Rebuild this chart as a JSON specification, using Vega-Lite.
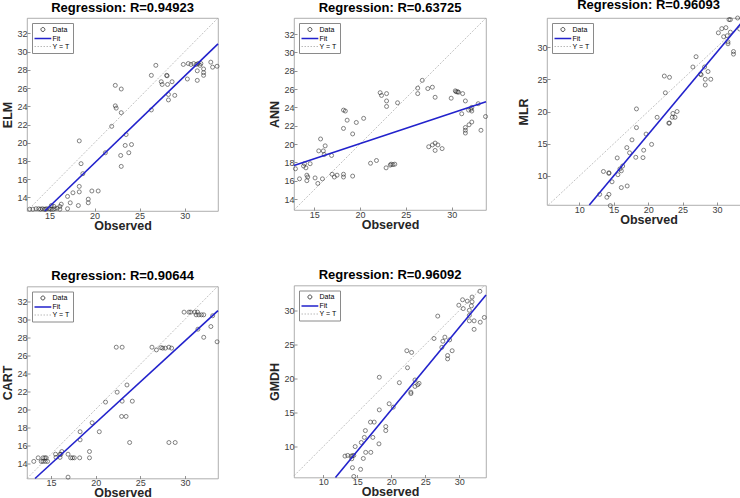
{
  "$schema": "https://vega.github.io/schema/vega-lite/v6.json",
  "padding": {"left": 0, "top": -1, "right": 0, "bottom": 0},
  "datasets": {
    "elm": [{"x":12.8,"y":12.7},{"x":13.15,"y":12.7},{"x":13.5,"y":12.75},{"x":13.8,"y":12.75},{"x":14.0,"y":12.7},{"x":14.2,"y":12.75},{"x":14.4,"y":12.7},{"x":14.55,"y":12.7},{"x":14.7,"y":12.75},{"x":14.95,"y":12.75},{"x":15.15,"y":12.7},{"x":15.4,"y":12.7},{"x":15.6,"y":12.75},{"x":16.15,"y":12.7},{"x":15.2,"y":13.1},{"x":15.5,"y":13.0},{"x":15.85,"y":12.8},{"x":16.15,"y":13.0},{"x":16.3,"y":13.25},{"x":17.0,"y":12.75},{"x":17.0,"y":14.1},{"x":17.3,"y":13.4},{"x":17.6,"y":14.5},{"x":18.2,"y":13.1},{"x":18.3,"y":14.6},{"x":18.3,"y":15.2},{"x":18.3,"y":20.2},{"x":18.5,"y":17.7},{"x":18.7,"y":16.6},{"x":19.3,"y":13.8},{"x":19.3,"y":13.4},{"x":19.7,"y":14.7},{"x":20.4,"y":14.7},{"x":21.2,"y":18.9},{"x":21.9,"y":21.8},{"x":22.3,"y":26.3},{"x":22.3,"y":24.05},{"x":22.4,"y":23.8},{"x":22.9,"y":18.6},{"x":22.96,"y":25.9},{"x":22.96,"y":23.3},{"x":22.96,"y":17.4},{"x":23.4,"y":19.7},{"x":23.5,"y":20.9},{"x":23.8,"y":18.9},{"x":24.1,"y":19.8},{"x":26.3,"y":27.4},{"x":26.3,"y":23.6},{"x":26.8,"y":28.5},{"x":27.4,"y":26.7},{"x":27.5,"y":26.4},{"x":28.0,"y":27.4},{"x":28.05,"y":27.35},{"x":28.1,"y":26.4},{"x":28.2,"y":25.3},{"x":28.2,"y":24.7},{"x":28.6,"y":26.7},{"x":28.9,"y":25.2},{"x":29.85,"y":28.6},{"x":30.3,"y":27.0},{"x":30.4,"y":28.7},{"x":30.7,"y":28.6},{"x":31.0,"y":28.7},{"x":31.3,"y":28.6},{"x":31.4,"y":27.9},{"x":31.4,"y":26.85},{"x":31.5,"y":28.7},{"x":31.7,"y":28.5},{"x":31.8,"y":28.7},{"x":32.1,"y":28.1},{"x":32.1,"y":27.7},{"x":32.1,"y":27.4},{"x":32.9,"y":28.85},{"x":33.1,"y":28.3},{"x":33.6,"y":28.4}],
    "ann": [{"x":12.96,"y":17.3},{"x":13.4,"y":16.2},{"x":13.84,"y":17.6},{"x":13.95,"y":17.85},{"x":14.1,"y":17.4},{"x":14.2,"y":16.6},{"x":14.2,"y":16.0},{"x":14.3,"y":16.4},{"x":14.56,"y":17.85},{"x":15.1,"y":16.3},{"x":15.4,"y":15.7},{"x":15.5,"y":19.25},{"x":15.7,"y":20.55},{"x":15.9,"y":16.2},{"x":16.0,"y":19.25},{"x":16.1,"y":18.85},{"x":16.2,"y":19.8},{"x":16.9,"y":18.75},{"x":16.96,"y":16.7},{"x":17.2,"y":16.4},{"x":17.5,"y":16.6},{"x":18.2,"y":16.7},{"x":18.2,"y":16.4},{"x":18.2,"y":23.7},{"x":18.4,"y":23.6},{"x":18.2,"y":21.7},{"x":18.6,"y":22.6},{"x":19.2,"y":16.5},{"x":19.2,"y":21.1},{"x":19.6,"y":22.35},{"x":20.4,"y":22.8},{"x":21.15,"y":17.9},{"x":21.8,"y":18.2},{"x":22.2,"y":25.6},{"x":22.35,"y":25.3},{"x":22.9,"y":25.5},{"x":22.9,"y":24.7},{"x":22.9,"y":24.1},{"x":22.85,"y":17.4},{"x":23.3,"y":17.7},{"x":23.4,"y":17.8},{"x":23.6,"y":17.75},{"x":23.8,"y":17.8},{"x":24.1,"y":24.5},{"x":26.3,"y":26.1},{"x":26.3,"y":25.5},{"x":26.8,"y":26.95},{"x":27.4,"y":26.05},{"x":27.5,"y":19.7},{"x":27.9,"y":26.2},{"x":27.9,"y":19.9},{"x":28.2,"y":25.1},{"x":28.2,"y":20.1},{"x":28.2,"y":19.3},{"x":28.5,"y":19.9},{"x":28.96,"y":19.5},{"x":29.95,"y":25.0},{"x":30.4,"y":25.8},{"x":30.5,"y":25.7},{"x":30.65,"y":25.7},{"x":30.75,"y":25.65},{"x":31.1,"y":23.3},{"x":31.2,"y":25.5},{"x":31.5,"y":24.7},{"x":31.5,"y":21.8},{"x":31.5,"y":21.5},{"x":31.5,"y":21.2},{"x":31.85,"y":23.7},{"x":31.9,"y":22.1},{"x":32.1,"y":23.8},{"x":32.2,"y":24.0},{"x":32.2,"y":23.6},{"x":32.2,"y":22.4},{"x":32.9,"y":24.4},{"x":33.2,"y":21.5},{"x":33.7,"y":23.0}],
    "mlr": [{"x":33.0,"y":34.5},{"x":31.75,"y":34.25},{"x":31.95,"y":34.25},{"x":33.3,"y":32.8},{"x":30.2,"y":32.2},{"x":30.7,"y":32.85},{"x":31.3,"y":33.0},{"x":30.97,"y":31.6},{"x":31.5,"y":31.75},{"x":31.95,"y":32.3},{"x":31.6,"y":30.8},{"x":31.6,"y":30.5},{"x":32.4,"y":29.3},{"x":32.4,"y":28.9},{"x":33.85,"y":29.8},{"x":26.96,"y":28.5},{"x":26.5,"y":26.9},{"x":28.2,"y":26.9},{"x":27.6,"y":25.8},{"x":27.7,"y":25.7},{"x":28.7,"y":26.2},{"x":28.3,"y":25.0},{"x":29.1,"y":25.0},{"x":28.3,"y":24.1},{"x":22.35,"y":25.5},{"x":23.1,"y":25.3},{"x":22.5,"y":22.9},{"x":23.6,"y":19.7},{"x":24.2,"y":20.0},{"x":23.5,"y":19.1},{"x":23.9,"y":19.1},{"x":23.0,"y":18.2},{"x":23.1,"y":18.2},{"x":21.3,"y":19.1},{"x":18.3,"y":20.4},{"x":18.3,"y":17.5},{"x":19.7,"y":16.5},{"x":20.5,"y":14.9},{"x":17.65,"y":15.6},{"x":16.9,"y":14.4},{"x":17.3,"y":13.6},{"x":19.35,"y":14.0},{"x":19.25,"y":12.85},{"x":18.2,"y":12.9},{"x":15.5,"y":12.8},{"x":16.3,"y":11.55},{"x":15.9,"y":11.1},{"x":16.1,"y":10.8},{"x":15.6,"y":10.2},{"x":14.3,"y":10.4},{"x":14.3,"y":10.5},{"x":13.5,"y":10.7},{"x":14.75,"y":9.1},{"x":16.1,"y":8.2},{"x":16.95,"y":8.45},{"x":12.95,"y":7.15},{"x":14.0,"y":6.7},{"x":14.3,"y":7.15},{"x":14.5,"y":5.4}],
    "cart": [{"x":13.06,"y":14.2},{"x":13.55,"y":14.6},{"x":13.9,"y":14.2},{"x":14.1,"y":14.6},{"x":14.3,"y":14.6},{"x":14.45,"y":14.6},{"x":14.1,"y":14.2},{"x":14.35,"y":14.2},{"x":14.6,"y":14.2},{"x":15.5,"y":15.0},{"x":15.55,"y":14.65},{"x":16.0,"y":14.65},{"x":16.0,"y":15.0},{"x":16.1,"y":15.0},{"x":16.2,"y":15.3},{"x":16.9,"y":15.0},{"x":17.2,"y":14.6},{"x":17.4,"y":14.6},{"x":17.6,"y":14.6},{"x":16.9,"y":12.45},{"x":18.2,"y":14.6},{"x":18.25,"y":17.5},{"x":18.25,"y":16.6},{"x":19.3,"y":15.3},{"x":19.3,"y":14.6},{"x":19.6,"y":18.5},{"x":20.4,"y":17.5},{"x":21.1,"y":20.8},{"x":22.3,"y":26.9},{"x":22.4,"y":21.9},{"x":22.96,"y":26.9},{"x":22.9,"y":19.2},{"x":23.4,"y":19.2},{"x":22.96,"y":20.9},{"x":23.5,"y":22.7},{"x":23.8,"y":16.3},{"x":24.1,"y":20.9},{"x":26.3,"y":26.9},{"x":26.8,"y":26.6},{"x":27.3,"y":26.85},{"x":27.5,"y":26.8},{"x":27.8,"y":26.8},{"x":28.2,"y":16.3},{"x":28.2,"y":26.9},{"x":28.5,"y":26.8},{"x":28.9,"y":16.3},{"x":29.9,"y":30.8},{"x":30.45,"y":30.8},{"x":30.65,"y":30.8},{"x":31.1,"y":30.8},{"x":31.4,"y":30.8},{"x":31.25,"y":30.5},{"x":31.55,"y":30.5},{"x":31.85,"y":30.5},{"x":32.1,"y":30.5},{"x":31.45,"y":28.9},{"x":32.1,"y":28.0},{"x":32.9,"y":29.2},{"x":33.1,"y":30.4},{"x":33.6,"y":27.5}],
    "gmdh": [{"x":33.05,"y":32.85},{"x":30.5,"y":31.6},{"x":29.95,"y":30.8},{"x":31.2,"y":31.4},{"x":31.8,"y":30.7},{"x":31.9,"y":31.3},{"x":30.6,"y":30.3},{"x":31.5,"y":30.05},{"x":31.5,"y":29.3},{"x":31.5,"y":28.5},{"x":32.2,"y":28.5},{"x":31.9,"y":32.0},{"x":33.7,"y":29.0},{"x":33.1,"y":28.3},{"x":32.2,"y":27.25},{"x":26.85,"y":29.2},{"x":26.3,"y":25.9},{"x":27.9,"y":26.1},{"x":28.6,"y":25.7},{"x":27.6,"y":25.5},{"x":27.45,"y":24.6},{"x":28.3,"y":23.4},{"x":28.3,"y":22.9},{"x":28.97,"y":24.1},{"x":22.3,"y":24.1},{"x":23.0,"y":23.85},{"x":22.4,"y":21.6},{"x":21.2,"y":19.4},{"x":23.5,"y":19.8},{"x":23.5,"y":18.85},{"x":22.9,"y":18.0},{"x":22.9,"y":17.8},{"x":23.9,"y":19.1},{"x":24.1,"y":19.3},{"x":18.25,"y":20.2},{"x":18.25,"y":15.4},{"x":19.7,"y":16.3},{"x":20.3,"y":15.8},{"x":19.2,"y":12.95},{"x":19.2,"y":12.35},{"x":17.5,"y":13.6},{"x":16.95,"y":13.6},{"x":16.2,"y":12.35},{"x":16.05,"y":11.35},{"x":17.3,"y":11.35},{"x":15.6,"y":10.6},{"x":18.2,"y":10.4},{"x":14.7,"y":10.0},{"x":16.25,"y":9.15},{"x":17.0,"y":9.15},{"x":13.2,"y":8.6},{"x":13.6,"y":8.7},{"x":14.1,"y":8.6},{"x":14.3,"y":8.65},{"x":14.5,"y":8.7},{"x":14.2,"y":8.2},{"x":15.9,"y":8.25},{"x":14.3,"y":6.9},{"x":15.5,"y":6.65},{"x":14.5,"y":5.6}],
    "lines": [
      {"m":"ELM","s":"Fit","x":14.48,"y":12.5},{"m":"ELM","s":"Fit","x":33.7,"y":30.85},
      {"m":"ELM","s":"Y = T","x":12.5,"y":12.5},{"m":"ELM","s":"Y = T","x":33.7,"y":33.7},
      {"m":"ANN","s":"Fit","x":12.8,"y":17.65},{"m":"ANN","s":"Fit","x":33.75,"y":24.6},
      {"m":"ANN","s":"Y = T","x":12.8,"y":12.8},{"m":"ANN","s":"Y = T","x":33.75,"y":33.75},
      {"m":"MLR","s":"Fit","x":11.45,"y":5.5},{"m":"MLR","s":"Fit","x":34.13,"y":34.5},
      {"m":"MLR","s":"Y = T","x":5.5,"y":5.5},{"m":"MLR","s":"Y = T","x":34.5,"y":34.5},
      {"m":"CART","s":"Fit","x":13.2,"y":12.3},{"m":"CART","s":"Fit","x":33.7,"y":30.96},
      {"m":"CART","s":"Y = T","x":12.3,"y":12.3},{"m":"CART","s":"Y = T","x":33.65,"y":33.65},
      {"m":"GMDH","s":"Fit","x":11.8,"y":5.45},{"m":"GMDH","s":"Fit","x":33.95,"y":32.3},
      {"m":"GMDH","s":"Y = T","x":5.7,"y":5.7},{"m":"GMDH","s":"Y = T","x":33.7,"y":33.7}
    ]
  },
  "spacing": 45,
  "resolve": {"scale": {"color": "independent"}, "legend": {"color": "independent"}},
  "hconcat": [
    {
      "spacing": 37.5,
      "resolve": {"scale": {"color": "independent"}, "legend": {"color": "independent"}},
      "vconcat": [
        {
          "title": "Regression: R=0.94923",
          "width": 191, "height": 193,
          "layer": [
            {"data": {"name": "lines"}, "transform": [{"filter": "datum.m === 'ELM' && datum.s === 'Y = T'"}],
             "mark": {"type": "line", "strokeWidth": 0.7, "strokeDash": [2, 1.5]},
             "encoding": {
               "x": {"field": "x", "type": "quantitative", "scale": {"domain": [12.5, 33.7], "nice": false, "zero": false}, "axis": {"title": "Observed", "values": [15, 20, 25, 30], "tickCount": 20}},
               "y": {"field": "y", "type": "quantitative", "scale": {"domain": [12.5, 33.7], "nice": false, "zero": false}, "axis": {"title": "ELM", "values": [14, 16, 18, 20, 22, 24, 26, 28, 30, 32], "tickCount": 20}},
               "color": {"field": "s", "type": "nominal", "scale": {"domain": ["Data", "Fit", "Y = T"], "range": ["#222222", "#2222cc", "#a8a8a8"]},
                 "legend": {"encode": {"symbols": {"update": {
                   "shape": {"signal": "datum.value === 'Data' ? 'M1.6,0A0.5,0.5,0,1,1,0.6,0A0.5,0.5,0,1,1,1.6,0Z' : 'M-1,0L3.2,0'"},
                   "stroke": {"signal": "datum.value === 'Data' ? '#333333' : datum.value === 'Fit' ? '#2b2bd0' : '#9a9a9a'"},
                   "strokeWidth": {"signal": "datum.value === 'Fit' ? 1.6 : 0.8"},
                   "strokeDash": {"signal": "datum.value === 'Y = T' ? [1.5, 1.5] : [1, 0]"},
                   "fill": {"value": "transparent"},
                   "opacity": {"value": 1}}}}}}
             }},
            {"data": {"name": "elm"}, "mark": {"type": "point", "filled": false, "shape": "circle", "size": 16, "strokeWidth": 0.8},
             "encoding": {"x": {"field": "x", "type": "quantitative"}, "y": {"field": "y", "type": "quantitative"}, "color": {"datum": "Data", "type": "nominal"}}},
            {"data": {"name": "lines"}, "transform": [{"filter": "datum.m === 'ELM' && datum.s === 'Fit'"}],
             "mark": {"type": "line", "strokeWidth": 1.6},
             "encoding": {"x": {"field": "x", "type": "quantitative"}, "y": {"field": "y", "type": "quantitative"}, "color": {"field": "s", "type": "nominal"}}}
          ]
        },
        {
          "title": "Regression: R=0.90644",
          "width": 191, "height": 192,
          "layer": [
            {"data": {"name": "lines"}, "transform": [{"filter": "datum.m === 'CART' && datum.s === 'Y = T'"}],
             "mark": {"type": "line", "strokeWidth": 0.7, "strokeDash": [2, 1.5]},
             "encoding": {
               "x": {"field": "x", "type": "quantitative", "scale": {"domain": [12.3, 33.7], "nice": false, "zero": false}, "axis": {"title": "Observed", "values": [15, 20, 25, 30], "tickCount": 20}},
               "y": {"field": "y", "type": "quantitative", "scale": {"domain": [12.3, 33.65], "nice": false, "zero": false}, "axis": {"title": "CART", "values": [14, 16, 18, 20, 22, 24, 26, 28, 30, 32], "tickCount": 20}},
               "color": {"field": "s", "type": "nominal", "scale": {"domain": ["Data", "Fit", "Y = T"], "range": ["#222222", "#2222cc", "#a8a8a8"]},
                 "legend": {"encode": {"symbols": {"update": {
                   "shape": {"signal": "datum.value === 'Data' ? 'M1.6,0A0.5,0.5,0,1,1,0.6,0A0.5,0.5,0,1,1,1.6,0Z' : 'M-1,0L3.2,0'"},
                   "stroke": {"signal": "datum.value === 'Data' ? '#333333' : datum.value === 'Fit' ? '#2b2bd0' : '#9a9a9a'"},
                   "strokeWidth": {"signal": "datum.value === 'Fit' ? 1.6 : 0.8"},
                   "strokeDash": {"signal": "datum.value === 'Y = T' ? [1.5, 1.5] : [1, 0]"},
                   "fill": {"value": "transparent"},
                   "opacity": {"value": 1}}}}}}
             }},
            {"data": {"name": "cart"}, "mark": {"type": "point", "filled": false, "shape": "circle", "size": 16, "strokeWidth": 0.8},
             "encoding": {"x": {"field": "x", "type": "quantitative"}, "y": {"field": "y", "type": "quantitative"}, "color": {"datum": "Data", "type": "nominal"}}},
            {"data": {"name": "lines"}, "transform": [{"filter": "datum.m === 'CART' && datum.s === 'Fit'"}],
             "mark": {"type": "line", "strokeWidth": 1.6},
             "encoding": {"x": {"field": "x", "type": "quantitative"}, "y": {"field": "y", "type": "quantitative"}, "color": {"field": "s", "type": "nominal"}}}
          ]
        }
      ]
    },
    {
      "spacing": 26,
      "resolve": {"scale": {"color": "independent"}, "legend": {"color": "independent"}},
      "hconcat": [
        {
          "spacing": 37.5,
          "resolve": {"scale": {"color": "independent"}, "legend": {"color": "independent"}},
          "vconcat": [
            {
              "title": "Regression: R=0.63725",
              "width": 192, "height": 192,
              "layer": [
                {"data": {"name": "lines"}, "transform": [{"filter": "datum.m === 'ANN' && datum.s === 'Y = T'"}],
                 "mark": {"type": "line", "strokeWidth": 0.7, "strokeDash": [2, 1.5]},
                 "encoding": {
                   "x": {"field": "x", "type": "quantitative", "scale": {"domain": [12.8, 33.75], "nice": false, "zero": false}, "axis": {"title": "Observed", "values": [15, 20, 25, 30], "tickCount": 20}},
                   "y": {"field": "y", "type": "quantitative", "scale": {"domain": [12.8, 33.75], "nice": false, "zero": false}, "axis": {"title": "ANN", "values": [14, 16, 18, 20, 22, 24, 26, 28, 30, 32], "tickCount": 20}},
                   "color": {"field": "s", "type": "nominal", "scale": {"domain": ["Data", "Fit", "Y = T"], "range": ["#222222", "#2222cc", "#a8a8a8"]},
                     "legend": {"encode": {"symbols": {"update": {
                       "shape": {"signal": "datum.value === 'Data' ? 'M1.6,0A0.5,0.5,0,1,1,0.6,0A0.5,0.5,0,1,1,1.6,0Z' : 'M-1,0L3.2,0'"},
                       "stroke": {"signal": "datum.value === 'Data' ? '#333333' : datum.value === 'Fit' ? '#2b2bd0' : '#9a9a9a'"},
                       "strokeWidth": {"signal": "datum.value === 'Fit' ? 1.6 : 0.8"},
                       "strokeDash": {"signal": "datum.value === 'Y = T' ? [1.5, 1.5] : [1, 0]"},
                       "fill": {"value": "transparent"},
                       "opacity": {"value": 1}}}}}}
                 }},
                {"data": {"name": "ann"}, "mark": {"type": "point", "filled": false, "shape": "circle", "size": 16, "strokeWidth": 0.8},
                 "encoding": {"x": {"field": "x", "type": "quantitative"}, "y": {"field": "y", "type": "quantitative"}, "color": {"datum": "Data", "type": "nominal"}}},
                {"data": {"name": "lines"}, "transform": [{"filter": "datum.m === 'ANN' && datum.s === 'Fit'"}],
                 "mark": {"type": "line", "strokeWidth": 1.6},
                 "encoding": {"x": {"field": "x", "type": "quantitative"}, "y": {"field": "y", "type": "quantitative"}, "color": {"field": "s", "type": "nominal"}}}
              ]
            },
            {
              "title": "Regression: R=0.96092",
              "width": 192, "height": 192,
              "layer": [
                {"data": {"name": "lines"}, "transform": [{"filter": "datum.m === 'GMDH' && datum.s === 'Y = T'"}],
                 "mark": {"type": "line", "strokeWidth": 0.7, "strokeDash": [2, 1.5]},
                 "encoding": {
                   "x": {"field": "x", "type": "quantitative", "scale": {"domain": [5.7, 33.95], "nice": false, "zero": false}, "axis": {"title": "Observed", "values": [10, 15, 20, 25, 30], "tickCount": 20}},
                   "y": {"field": "y", "type": "quantitative", "scale": {"domain": [5.45, 33.7], "nice": false, "zero": false}, "axis": {"title": "GMDH", "values": [10, 15, 20, 25, 30], "tickCount": 20}},
                   "color": {"field": "s", "type": "nominal", "scale": {"domain": ["Data", "Fit", "Y = T"], "range": ["#222222", "#2222cc", "#a8a8a8"]},
                     "legend": {"encode": {"symbols": {"update": {
                       "shape": {"signal": "datum.value === 'Data' ? 'M1.6,0A0.5,0.5,0,1,1,0.6,0A0.5,0.5,0,1,1,1.6,0Z' : 'M-1,0L3.2,0'"},
                       "stroke": {"signal": "datum.value === 'Data' ? '#333333' : datum.value === 'Fit' ? '#2b2bd0' : '#9a9a9a'"},
                       "strokeWidth": {"signal": "datum.value === 'Fit' ? 1.6 : 0.8"},
                       "strokeDash": {"signal": "datum.value === 'Y = T' ? [1.5, 1.5] : [1, 0]"},
                       "fill": {"value": "transparent"},
                       "opacity": {"value": 1}}}}}}
                 }},
                {"data": {"name": "gmdh"}, "mark": {"type": "point", "filled": false, "shape": "circle", "size": 16, "strokeWidth": 0.8},
                 "encoding": {"x": {"field": "x", "type": "quantitative"}, "y": {"field": "y", "type": "quantitative"}, "color": {"datum": "Data", "type": "nominal"}}},
                {"data": {"name": "lines"}, "transform": [{"filter": "datum.m === 'GMDH' && datum.s === 'Fit'"}],
                 "mark": {"type": "line", "strokeWidth": 1.6},
                 "encoding": {"x": {"field": "x", "type": "quantitative"}, "y": {"field": "y", "type": "quantitative"}, "color": {"field": "s", "type": "nominal"}}}
              ]
            }
          ]
        },
        {
          "title": "Regression: R=0.96093",
          "width": 203, "height": 187,
          "layer": [
            {"data": {"name": "lines"}, "transform": [{"filter": "datum.m === 'MLR' && datum.s === 'Y = T'"}],
             "mark": {"type": "line", "strokeWidth": 0.7, "strokeDash": [2, 1.5]},
             "encoding": {
               "x": {"field": "x", "type": "quantitative", "scale": {"domain": [5.3, 34.8], "nice": false, "zero": false}, "axis": {"title": "Observed", "values": [10, 15, 20, 25, 30], "tickCount": 20}},
               "y": {"field": "y", "type": "quantitative", "scale": {"domain": [5.5, 34.5], "nice": false, "zero": false}, "axis": {"title": "MLR", "values": [10, 15, 20, 25, 30], "tickCount": 20, "titlePadding": 5}},
               "color": {"field": "s", "type": "nominal", "scale": {"domain": ["Data", "Fit", "Y = T"], "range": ["#222222", "#2222cc", "#a8a8a8"]},
                 "legend": {"encode": {"symbols": {"update": {
                   "shape": {"signal": "datum.value === 'Data' ? 'M1.6,0A0.5,0.5,0,1,1,0.6,0A0.5,0.5,0,1,1,1.6,0Z' : 'M-1,0L3.2,0'"},
                   "stroke": {"signal": "datum.value === 'Data' ? '#333333' : datum.value === 'Fit' ? '#2b2bd0' : '#9a9a9a'"},
                   "strokeWidth": {"signal": "datum.value === 'Fit' ? 1.6 : 0.8"},
                   "strokeDash": {"signal": "datum.value === 'Y = T' ? [1.5, 1.5] : [1, 0]"},
                   "fill": {"value": "transparent"},
                   "opacity": {"value": 1}}}}}}
             }},
            {"data": {"name": "mlr"}, "mark": {"type": "point", "filled": false, "shape": "circle", "size": 16, "strokeWidth": 0.8},
             "encoding": {"x": {"field": "x", "type": "quantitative"}, "y": {"field": "y", "type": "quantitative"}, "color": {"datum": "Data", "type": "nominal"}}},
            {"data": {"name": "lines"}, "transform": [{"filter": "datum.m === 'MLR' && datum.s === 'Fit'"}],
             "mark": {"type": "line", "strokeWidth": 1.6},
             "encoding": {"x": {"field": "x", "type": "quantitative"}, "y": {"field": "y", "type": "quantitative"}, "color": {"field": "s", "type": "nominal"}}}
          ]
        }
      ]
    }
  ],
  "config": {
    "font": "Liberation Sans",
    "background": "white",
    "view": {"stroke": "#9a9a9a", "strokeWidth": 0.8},
    "title": {"font": "Liberation Sans", "fontSize": 13, "fontWeight": "bold", "color": "#000000", "offset": 2, "anchor": "middle"},
    "axis": {"grid": false, "domain": false, "tickSize": -3, "tickColor": "#777777", "tickWidth": 0.8, "labelFont": "Liberation Sans", "labelFontSize": 9, "labelColor": "#404040", "labelPadding": 3, "labelFlush": false, "labelOverlap": false, "titleFont": "Liberation Sans", "titleFontSize": 12.5, "titleFontWeight": "bold", "titleColor": "#262626"},
    "axisX": {"minExtent": 8, "maxExtent": 8, "titlePadding": 0},
    "axisY": {"minExtent": 12, "maxExtent": 12, "titlePadding": 1},
    "legend": {"orient": "top-left", "offset": 5, "padding": 3, "strokeColor": "#8a8a8a", "fillColor": "white", "cornerRadius": 0, "labelFont": "Liberation Sans", "labelFontSize": 7, "labelColor": "#000000", "labelOffset": 10.5, "rowPadding": 0, "symbolSize": 64, "title": null}
  }
}
